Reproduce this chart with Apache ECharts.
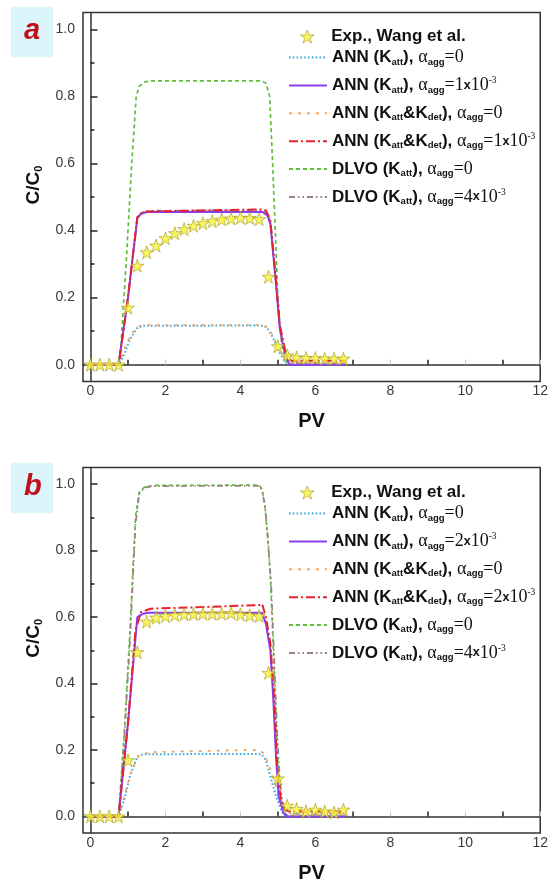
<!DOCTYPE html>
<html>
<head>
<meta charset="utf-8">
<script src="https://cdn.jsdelivr.net/npm/echarts@6/dist/echarts.min.js"></script>
<style>
  html, body { margin: 0; padding: 0; background: #fff; }
  #chart { width: 551px; height: 884px; }
</style>
</head>
<body>
<div id="chart"></div>
<script>
// ---- Experimental breakthrough data (Wang et al.) ----
const expPV = [0, 0.25, 0.5, 0.75, 1, 1.25, 1.5, 1.75, 2, 2.25, 2.5, 2.75, 3, 3.25, 3.5, 3.75, 4, 4.25, 4.5, 4.75, 5, 5.25, 5.5, 5.75, 6, 6.25, 6.5, 6.75];
const expA = [0, 0, 0, 0, 0.17, 0.295, 0.335, 0.355, 0.377, 0.392, 0.404, 0.414, 0.422, 0.428, 0.433, 0.436, 0.438, 0.437, 0.434, 0.262, 0.055, 0.028, 0.022, 0.02, 0.02, 0.018, 0.018, 0.018];
const expB = [0, 0, 0, 0, 0.169, 0.494, 0.586, 0.598, 0.603, 0.606, 0.608, 0.609, 0.61, 0.61, 0.61, 0.612, 0.608, 0.605, 0.603, 0.432, 0.114, 0.032, 0.022, 0.015, 0.02, 0.015, 0.012, 0.02];

// ---- Model curves, panel a: [PV, C/C0] ----
const annAtt0A = [[0,0],[0.75,0],[0.9,0.03],[1.05,0.075],[1.25,0.11],[1.4,0.116],[4.55,0.117],[4.7,0.112],[4.85,0.085],[5.05,0.035],[5.2,0.008],[5.3,0],[6.8,0]];
const annAtt1A = [[0,0],[0.75,0],[1.0,0.2],[1.25,0.437],[1.35,0.45],[1.5,0.455],[4.6,0.455],[4.72,0.445],[4.8,0.42],[4.95,0.24],[5.05,0.11],[5.15,0.05],[5.3,0],[6.8,0]];
const annDet0A = [[0,0],[0.75,0],[0.95,0.06],[1.1,0.095],[1.3,0.115],[1.5,0.118],[4.55,0.118],[4.7,0.113],[4.85,0.09],[5.05,0.04],[5.25,0.008],[5.35,0.003],[6.8,0.003]];
const annDet1A = [[0,0],[0.75,0],[1.0,0.2],[1.25,0.44],[1.35,0.452],[1.5,0.457],[3.0,0.46],[4.55,0.463],[4.68,0.46],[4.8,0.43],[4.95,0.25],[5.05,0.12],[5.2,0.04],[5.35,0.012],[6.8,0.012]];
const dlvo0A = [[0,0],[0.78,0],[0.95,0.3],[1.1,0.6],[1.22,0.8],[1.3,0.83],[1.45,0.843],[1.6,0.846],[4.55,0.846],[4.68,0.84],[4.78,0.8],[4.86,0.6],[4.93,0.4],[5.0,0.2],[5.1,0.06],[5.2,0.015],[5.3,0],[6.8,0]];
const dlvo4A = [[0,0],[0.75,0],[1.0,0.2],[1.25,0.44],[1.4,0.455],[1.6,0.459],[4.55,0.461],[4.7,0.455],[4.8,0.43],[4.95,0.25],[5.05,0.11],[5.2,0.03],[5.35,0.005],[6.8,0.005]];

// ---- Model curves, panel b ----
const annAtt0B = [[0,0],[0.75,0],[0.9,0.05],[1.05,0.12],[1.25,0.18],[1.4,0.187],[4.55,0.188],[4.68,0.17],[4.8,0.12],[4.95,0.06],[5.1,0.015],[5.2,0],[6.8,0]];
const annAtt2B = [[0,0],[0.75,0],[1.0,0.28],[1.25,0.6],[1.4,0.61],[1.55,0.613],[4.58,0.613],[4.68,0.58],[4.8,0.5],[4.88,0.35],[4.95,0.18],[5.02,0.06],[5.15,0.01],[5.25,0],[6.8,0]];
const annDet0B = [[0,0],[0.75,0],[0.95,0.08],[1.1,0.14],[1.3,0.185],[1.6,0.193],[3.0,0.197],[4.5,0.2],[4.62,0.19],[4.75,0.16],[4.9,0.11],[5.05,0.05],[5.2,0.01],[5.3,0.003],[6.8,0.003]];
const annDet2B = [[0,0],[0.75,0],[1.0,0.28],[1.2,0.56],[1.35,0.615],[1.6,0.625],[3.0,0.63],[4.5,0.636],[4.58,0.64],[4.68,0.6],[4.8,0.52],[4.9,0.36],[4.98,0.15],[5.08,0.05],[5.2,0.02],[5.3,0.015],[6.8,0.015]];
const dlvo0B = [[0,0],[0.75,0],[0.9,0.25],[1.05,0.55],[1.2,0.9],[1.3,0.975],[1.45,0.992],[1.7,0.996],[4.5,0.997],[4.58,0.985],[4.65,0.94],[4.72,0.85],[4.8,0.72],[4.88,0.5],[4.95,0.3],[5.02,0.12],[5.1,0.04],[5.2,0.008],[5.3,0],[6.8,0]];
const dlvo4B = [[0,0],[0.75,0],[0.9,0.23],[1.05,0.52],[1.2,0.88],[1.3,0.97],[1.45,0.99],[1.7,0.994],[4.5,0.995],[4.58,0.98],[4.66,0.93],[4.73,0.84],[4.82,0.7],[4.9,0.48],[4.97,0.28],[5.05,0.11],[5.13,0.04],[5.25,0.012],[5.35,0.008],[6.8,0.008]];

// ---- Axis ticks / labels ----
const xLabelVals = [0, 2, 4, 6, 8, 10, 12];
const xMinorVals = [1, 3, 5, 7, 9, 11];
const yLabelVals = [0, 0.2, 0.4, 0.6, 0.8, 1.0];
const yMinorVals = [0.1, 0.3, 0.5, 0.7, 0.9];
const panelLetters = ['a', 'b'];

// ---- Series names ----
const N_EXP = 'Exp., Wang et al.';
const N_ANN0 = 'ANN (Katt), αagg=0';
const N_ANN1 = 'ANN (Katt), αagg=1x10-3';
const N_ANN2 = 'ANN (Katt), αagg=2x10-3';
const N_DET0 = 'ANN (Katt&Kdet), αagg=0';
const N_DET1 = 'ANN (Katt&Kdet), αagg=1x10-3';
const N_DET2 = 'ANN (Katt&Kdet), αagg=2x10-3';
const N_DLVO0 = 'DLVO (Katt), αagg=0';
const N_DLVO4 = 'DLVO (Katt), αagg=4x10-3';

const SANS = '"Liberation Sans", Arial, sans-serif';
const SERIF = '"Liberation Serif", "Times New Roman", serif';

const richLabel = {
  [N_EXP]: '{b|Exp., Wang et al.}',
  [N_ANN0]: '{b|ANN (K}{sub|att}{b|), }{s|α}{sub|agg}{s|=0}',
  [N_ANN1]: '{b|ANN (K}{sub|att}{b|), }{s|α}{sub|agg}{s|=1}{x|x}{s|10}{sup|-3}',
  [N_ANN2]: '{b|ANN (K}{sub|att}{b|), }{s|α}{sub|agg}{s|=2}{x|x}{s|10}{sup|-3}',
  [N_DET0]: '{b|ANN (K}{sub|att}{b|&K}{sub|det}{b|), }{s|α}{sub|agg}{s|=0}',
  [N_DET1]: '{b|ANN (K}{sub|att}{b|&K}{sub|det}{b|), }{s|α}{sub|agg}{s|=1}{x|x}{s|10}{sup|-3}',
  [N_DET2]: '{b|ANN (K}{sub|att}{b|&K}{sub|det}{b|), }{s|α}{sub|agg}{s|=2}{x|x}{s|10}{sup|-3}',
  [N_DLVO0]: '{b|DLVO (K}{sub|att}{b|), }{s|α}{sub|agg}{s|=0}',
  [N_DLVO4]: '{b|DLVO (K}{sub|att}{b|), }{s|α}{sub|agg}{s|=4}{x|x}{s|10}{sup|-3}'
};

const legendRich = {
  b: { fontFamily: SANS, fontWeight: 'bold', fontSize: 17, lineHeight: 19, color: '#111' },
  sub: { fontFamily: SANS, fontWeight: 'bold', fontSize: 9.5, lineHeight: 10, padding: [9, 0, 0, 0], color: '#111' },
  s: { fontFamily: SERIF, fontSize: 18, lineHeight: 19, color: '#111' },
  x: { fontFamily: SANS, fontWeight: 'bold', fontSize: 12.5, lineHeight: 19, color: '#111' },
  sup: { fontFamily: SERIF, fontSize: 9.5, lineHeight: 10, padding: [0, 0, 9, 0], color: '#111' }
};

const starPath = 'path://M50,2 L61.2,36.3 L97.6,36.3 L68.2,57.6 L79.4,92 L50,70.8 L20.6,92 L31.8,57.6 L2.4,36.3 L38.8,36.3 Z';
const starStyle = { color: '#f6f23a', borderColor: '#a89a20', borderWidth: 0.8 };

// line styles per model
const STY = {
  ann0: { color: '#35a8e6', width: 2, type: [1.6, 2.2] },
  ann1: { color: '#8a3cf0', width: 2, type: 'solid' },
  det0: { color: '#f2a460', width: 1.8, type: [3, 6] },
  det1: { color: '#e8202a', width: 2, type: [9, 3, 2, 3] },
  dlvo0: { color: '#5fbf3c', width: 1.7, type: [4, 3] },
  dlvo4: { color: '#9a8080', width: 1.7, type: [6, 3, 1.5, 3, 1.5, 3] }
};

// grid geometry
const GRID_LEFT = 83;
const GRID_W = 458;
const GRID_H = 369;
const GRID_TOPS = [12.5, 467.5];
const PANEL_SHIFT = 455;

function lineSeries(name, data, panel, sty, z) {
  return {
    type: 'line', name, data,
    xAxisIndex: panel * 2, yAxisIndex: panel * 2,
    symbol: 'none', showSymbol: false, smooth: false,
    lineStyle: { color: sty.color, width: sty.width, type: sty.type },
    itemStyle: { color: sty.color },
    z: z || 2, animation: false
  };
}

function expSeries(values, panel) {
  return {
    type: 'scatter', name: N_EXP,
    data: expPV.map((pv, i) => [pv, values[i]]),
    xAxisIndex: panel * 2, yAxisIndex: panel * 2,
    symbol: starPath, symbolSize: 13,
    itemStyle: starStyle,
    z: 10, animation: false
  };
}

const series = [
  lineSeries(N_DLVO0, dlvo0A, 0, STY.dlvo0),
  lineSeries(N_DLVO4, dlvo4A, 0, STY.dlvo4),
  lineSeries(N_ANN0, annAtt0A, 0, STY.ann0),
  lineSeries(N_DET0, annDet0A, 0, STY.det0),
  lineSeries(N_ANN1, annAtt1A, 0, STY.ann1),
  lineSeries(N_DET1, annDet1A, 0, STY.det1, 3),
  expSeries(expA, 0),
  lineSeries(N_DLVO0, dlvo0B, 1, STY.dlvo0),
  lineSeries(N_DLVO4, dlvo4B, 1, STY.dlvo4),
  lineSeries(N_ANN0, annAtt0B, 1, STY.ann0),
  lineSeries(N_DET0, annDet0B, 1, STY.det0),
  lineSeries(N_ANN2, annAtt2B, 1, STY.ann1),
  lineSeries(N_DET2, annDet2B, 1, STY.det1, 3),
  expSeries(expB, 1)
];

const grids = GRID_TOPS.map(top => ({
  left: GRID_LEFT, top, width: GRID_W, height: GRID_H,
  show: true, borderColor: '#333', borderWidth: 1.5, backgroundColor: 'transparent'
}));

const xAxes = [];
const yAxes = [];
[0, 1].forEach(p => {
  // main x axis with labels at even PV
  xAxes.push({
    type: 'value', gridIndex: p, min: -0.2, max: 12, position: 'bottom',
    name: 'PV', nameLocation: 'middle', nameGap: 30,
    nameTextStyle: { fontFamily: SANS, fontWeight: 'bold', fontSize: 20, color: '#111' },
    axisLine: { show: true, lineStyle: { color: '#333', width: 1.5 } },
    axisTick: { show: true, inside: true, length: 5, customValues: xLabelVals, lineStyle: { color: '#c8c8c8', width: 1 } },
    axisLabel: { customValues: xLabelVals, margin: 3, fontFamily: SANS, fontSize: 14, color: '#3a3a3a' },
    splitLine: { show: false }
  });
  // odd PV ticks
  xAxes.push({
    type: 'value', gridIndex: p, min: -0.2, max: 12, position: 'bottom', offset: 0,
    axisLine: { show: false },
    axisTick: { show: true, inside: true, length: 5, customValues: xMinorVals, lineStyle: { color: '#222', width: 1.5 } },
    axisLabel: { show: false },
    splitLine: { show: false }
  });
  yAxes.push({
    type: 'value', gridIndex: p, min: -0.05, max: 1.05, position: 'left',
    name: '{n|C/C}{ns|0}', nameLocation: 'middle', nameGap: 35,
    nameTextStyle: {
      padding: [0, 0, 0, 24],
      rich: {
        n: { fontFamily: SANS, fontWeight: 'bold', fontSize: 19, color: '#111', lineHeight: 20 },
        ns: { fontFamily: SANS, fontWeight: 'bold', fontSize: 11, color: '#111', lineHeight: 12, padding: [10, 0, 0, 0] }
      }
    },
    axisLine: { show: true, lineStyle: { color: '#333', width: 1.5 } },
    axisTick: { show: true, inside: true, length: 7, customValues: yLabelVals, lineStyle: { color: '#222', width: 1.5 } },
    axisLabel: { customValues: yLabelVals, margin: 8, fontFamily: SANS, fontSize: 14, color: '#3a3a3a', formatter: v => v.toFixed(1) },
    splitLine: { show: false }
  });
  yAxes.push({
    type: 'value', gridIndex: p, min: -0.05, max: 1.05, position: 'left', offset: 0,
    axisLine: { show: false },
    axisTick: { show: true, inside: true, length: 4, customValues: yMinorVals, lineStyle: { color: '#222', width: 1.5 } },
    axisLabel: { show: false },
    splitLine: { show: false }
  });
});

function legendFor(p, names, left, top, gap, itemStyle) {
  return {
    orient: 'vertical', left, top: top + p * PANEL_SHIFT,
    itemWidth: 38, itemHeight: 13, itemGap: gap,
    selectedMode: false, padding: 0,
    data: names,
    itemStyle,
    formatter: n => richLabel[n],
    textStyle: { rich: legendRich }
  };
}

// line entries hide the point marker so only the stroke pattern shows
const hiddenMarker = { opacity: 0 };

const legends = [
  legendFor(0, [N_EXP], 300, 28, 0, starStyle),
  legendFor(0, [N_ANN0, N_ANN1, N_DET0, N_DET1, N_DLVO0, N_DLVO4], 288, 48, 8.9, hiddenMarker),
  legendFor(1, [N_EXP], 300, 29, 0, starStyle),
  legendFor(1, [N_ANN0, N_ANN2, N_DET0, N_DET2, N_DLVO0, N_DLVO4], 288, 49, 8.9, hiddenMarker)
];

// panel letters on light cyan tags
const graphics = [];
panelLetters.forEach((letter, p) => {
  const oy = p * PANEL_SHIFT + (p ? 1 : 0);
  graphics.push({
    type: 'rect', left: 11, top: 7 + oy,
    shape: { width: 42, height: 50 },
    style: { fill: '#dcf5fa' }, z: 1
  });
  graphics.push({
    type: 'text', left: 24, top: 16 + oy,
    style: { text: letter, font: 'italic bold 29px ' + SANS, fill: '#c0101c' }, z: 2
  });
});

const chart = echarts.init(document.getElementById('chart'), null, { renderer: 'canvas' });
chart.setOption({
  backgroundColor: '#fff',
  animation: false,
  grid: grids,
  xAxis: xAxes,
  yAxis: yAxes,
  legend: legends,
  graphic: graphics,
  series
});
</script>
</body>
</html>
